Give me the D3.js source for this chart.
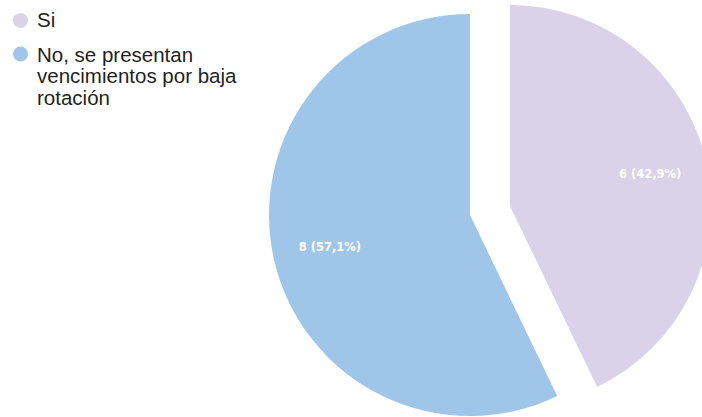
<!DOCTYPE html>
<html>
<head>
<meta charset="utf-8">
<script src="https://cdn.jsdelivr.net/npm/d3@7"></script>
<style>
  html, body { margin: 0; padding: 0; background: #fff; }
  svg { display: block; }
</style>
</head>
<body>
<svg id="chart" width="702" height="417"></svg>
<script>
// Survey answers and counts
const categories = ["Si", "No, se presentan vencimientos por baja rotación"];
const legendLines = [["Si"], ["No, se presentan", "vencimientos por baja", "rotación"]];
const counts = [6, 8];
const percentLabels = ["42,9%", "57,1%"];
const colors = ["#d9d2e9", "#9fc5e8"];

const width = 702, height = 417;
const svg = d3.select("#chart");

const cx = 470, cy = 215, radius = 201;
const explodeOffset = 41; // first slice is pulled out

const pie = d3.pie().sort(null).value(d => d)(counts);
const arc = d3.arc().innerRadius(0).outerRadius(radius);
const labelArc = d3.arc().innerRadius(radius * 0.715).outerRadius(radius * 0.715);

const g = svg.append("g").attr("transform", `translate(${cx},${cy})`);

const slices = g.selectAll("g.slice")
  .data(pie)
  .join("g")
  .attr("class", "slice")
  .attr("transform", (d, i) => {
    if (i !== 0) return null;
    const mid = (d.startAngle + d.endAngle) / 2;
    return `translate(${Math.sin(mid) * explodeOffset},${-Math.cos(mid) * explodeOffset})`;
  });

slices.append("path")
  .attr("d", arc)
  .attr("fill", (d, i) => colors[i]);

slices.append("text")
  .attr("transform", d => `translate(${labelArc.centroid(d)})`)
  .attr("text-anchor", "middle")
  .attr("dy", "0.35em")
  .attr("fill", "#ffffff")
  .attr("font-family", "DejaVu Sans, Verdana, sans-serif")
  .attr("font-weight", "bold")
  .attr("font-size", 11.5)
  .text((d, i) => `${counts[i]} (${percentLabels[i]})`);

// Legend
const legend = svg.append("g").attr("class", "legend");
const legendY = [20.5, 54];
const baselineY = [27, 61.5];
categories.forEach((c, i) => {
  legend.append("circle")
    .attr("cx", 20.5).attr("cy", legendY[i]).attr("r", 7.5)
    .attr("fill", colors[i]);
  const t = legend.append("text")
    .attr("x", 37)
    .attr("y", baselineY[i])
    .attr("fill", "#1f1f1f")
    .attr("font-family", "Liberation Sans, Arial, sans-serif")
    .attr("font-size", 20.5);
  legendLines[i].forEach((line, j) => {
    t.append("tspan").attr("x", 37).attr("dy", j === 0 ? 0 : 21.5).text(line);
  });
});
</script>
</body>
</html>
